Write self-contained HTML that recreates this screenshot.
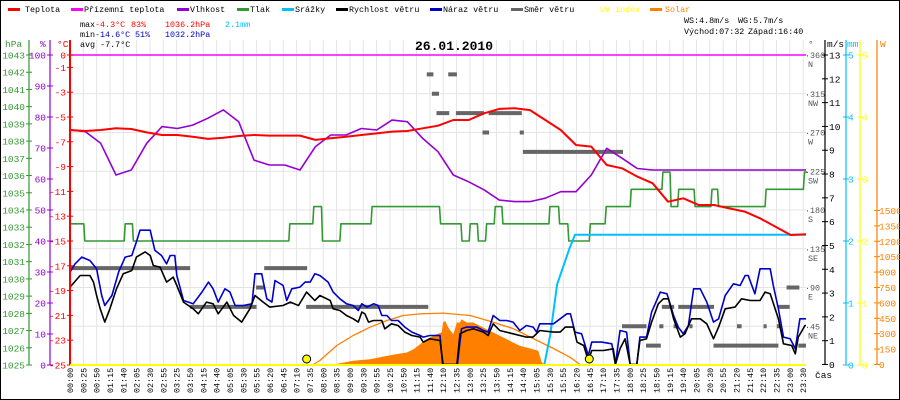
<!DOCTYPE html>
<html><head><meta charset="utf-8"><style>
html,body{margin:0;padding:0;background:#fff}
svg{display:block}
text{font-family:"Liberation Mono",monospace;font-size:9.5px}
.sm{font-size:8.4px}
</style></head><body>
<svg id="chart" width="900" height="400" viewBox="0 0 900 400" xmlns="http://www.w3.org/2000/svg">
<rect x="0.5" y="0.5" width="899" height="399" fill="#fff" stroke="#000"/>
<g id="grid"></g>
<g id="series"></g>
<g id="axes"></g>
<g class="sm">
 <rect x="8" y="8" width="12" height="3" fill="#f00"/><text class="sm" x="25" y="12">Teplota</text>
 <rect x="71" y="8" width="12" height="3" fill="#f0f"/><text class="sm" x="84" y="12">Přízemní teplota</text>
 <rect x="177" y="8" width="12" height="3" fill="#9400d3"/><text class="sm" x="190" y="12">Vlhkost</text>
 <rect x="237" y="8" width="12" height="3" fill="#339933"/><text class="sm" x="250" y="12">Tlak</text>
 <rect x="282" y="8" width="12" height="3" fill="#00bfff"/><text class="sm" x="295" y="12">Srážky</text>
 <rect x="336" y="8" width="12" height="3" fill="#000"/><text class="sm" x="349" y="12">Rychlost větru</text>
 <rect x="430" y="8" width="12" height="3" fill="#0000cc"/><text class="sm" x="443" y="12">Náraz větru</text>
 <rect x="511" y="8" width="12" height="3" fill="#666"/><text class="sm" x="524" y="12">Směr větru</text>
 <text class="sm" x="600" y="12" fill="#ffff00">UV index</text>
 <rect x="650" y="8" width="12" height="3" fill="#ff8000"/><text class="sm" x="665" y="12" fill="#ff8000">Solar</text>
</g>
<g>
 <text class="sm" x="80" y="27">max</text><text class="sm" x="95" y="27" fill="#f00">-4.3°C</text><text class="sm" x="131" y="27" fill="#f00">83%</text><text class="sm" x="165" y="27" fill="#f00">1036.2hPa</text><text class="sm" x="225" y="27" fill="#00bfff">2.1mm</text>
 <text class="sm" x="80" y="37">min</text><text class="sm" x="95" y="37" fill="#0000cc">-14.6°C</text><text class="sm" x="135" y="37" fill="#0000cc">51%</text><text class="sm" x="165" y="37" fill="#0000cc">1032.2hPa</text>
 <text class="sm" x="80" y="47">avg -7.7°C</text>
 <text class="sm" x="684" y="23">WS:4.8m/s</text><text class="sm" x="738" y="23">WG:5.7m/s</text>
 <text class="sm" x="684" y="34">Východ:07:32</text><text class="sm" x="748" y="34">Západ:16:40</text>
 <text x="415" y="50" style="font-size:13px;font-weight:bold">26.01.2010</text>
</g>
</svg>
<script>
// ---- data ----
const tempTimes=[0,30,60,90,120,150,180,210,240,270,300,330,360,390,420,450,480,510,540,570,600,630,660,690,720,750,780,810,840,870,900,930,960,990,1020,1050,1080,1110,1140,1170,1200,1230,1260,1290,1320,1350,1380,1410,1440];
const tempValues=[-6.05,-6.13,-6.05,-5.91,-5.97,-6.24,-6.45,-6.45,-6.59,-6.77,-6.67,-6.53,-6.45,-6.5,-6.5,-6.5,-6.85,-6.72,-6.59,-6.45,-6.32,-6.18,-6.13,-5.91,-5.7,-5.24,-5.24,-4.7,-4.35,-4.3,-4.44,-5.24,-6.05,-7.26,-7.39,-8.87,-9.14,-9.81,-10.35,-11.83,-11.56,-12.1,-12.1,-12.37,-12.63,-13.17,-13.84,-14.52,-14.46];
const humValues=[75.8,75.3,71.5,61.3,62.9,71.5,76.9,76.3,77.4,79.6,82.3,78.5,66.1,64.5,64.5,62.9,70.4,74.2,74.2,76.3,75.8,79.0,78.5,73.1,68.8,61.3,59.1,56.5,53.2,52.7,52.7,53.8,55.9,55.9,61.3,69.9,66.7,63.4,62.9,62.9,62.9,62.9,62.9,62.9,62.9,62.9,62.9,62.9,62.9];
const apparentTimes=[0,1440];
const apparentValues=[0,0];
const pressTimes=[0,27,106,122,428,475,492,528,589,723,765,781,797,813,830,845,937,956,974,1016,1047,1096,1158,1174,1189,1221,1254,1267,1360,1435,1440];
const pressValues=[1033.2,1032.2,1033.2,1032.2,1033.2,1034.2,1032.2,1033.2,1034.2,1033.2,1032.2,1033.2,1032.2,1033.2,1034.2,1033.2,1034.2,1033.2,1032.2,1033.2,1034.2,1035.2,1036.2,1034.2,1035.2,1034.2,1035.2,1034.2,1035.2,1036.2,1036.2];
const rainTimes=[0,928,940,953,968,978,988,1440];
const rainValues=[0,0,0.5,1.3,1.66,1.9,2.1,2.1];
const windTimes=[0,20,39,46,52,59,68,78,91,104,121,130,147,157,163,176,189,202,209,222,241,251,267,280,290,307,320,336,352,362,378,391,417,431,447,463,479,489,509,515,528,541,554,564,571,577,584,594,610,616,629,642,655,669,685,691,704,724,730,757,763,776,789,809,818,828,841,867,893,906,919,946,959,969,985,992,1005,1014,1021,1044,1063,1067,1076,1086,1096,1109,1115,1128,1138,1151,1161,1171,1181,1194,1203,1216,1233,1246,1259,1269,1282,1301,1314,1331,1350,1360,1370,1386,1396,1412,1419,1425,1438,1440];
const windValues=[3.25,3.74,3.74,3.46,2.9,2.34,1.78,2.34,3.18,3.81,3.95,4.51,4.73,4.58,4.16,4.09,3.46,3.67,3.32,2.62,2.34,2.13,2.62,2.55,2.13,2.62,2.06,1.78,2.34,2.9,2.62,2.41,2.48,2.62,2.48,3.04,2.69,2.9,2.69,2.34,2.27,2.06,1.92,1.78,2.2,2.13,1.78,1.85,1.85,1.5,1.71,1.64,1.36,1.22,1.15,0.94,1.08,1.01,0,0,1.29,1.43,1.5,1.36,1.22,1.71,1.43,1.29,1.15,1.15,1.43,1.36,1.36,1.57,1.57,0.94,0.8,0.17,0.59,0.59,0.66,0,0.66,1.08,0,0,1.01,1.08,1.78,2.55,2.76,2.76,1.92,1.15,1.29,1.92,1.92,1.71,1.08,1.57,2.34,2.41,2.76,2.69,2.69,3.04,2.97,1.92,0.87,0.8,0.45,1.15,1.64,1.64];
const gustTimes=[0,10,23,39,52,62,68,82,95,108,121,130,137,157,166,179,189,196,205,209,222,241,258,271,280,290,303,313,323,339,356,362,375,385,395,401,417,424,434,450,460,470,479,489,505,515,528,541,554,564,571,581,594,603,610,620,629,642,655,669,685,691,704,724,729,758,766,776,796,809,818,828,841,854,867,880,893,906,913,919,946,959,972,979,988,1001,1014,1021,1040,1060,1067,1076,1089,1096,1109,1115,1128,1138,1155,1168,1181,1190,1200,1210,1220,1233,1246,1259,1269,1282,1298,1311,1321,1327,1340,1350,1370,1376,1386,1396,1409,1419,1428,1440];
const gustValues=[3.88,4.23,4.51,4.37,4.02,2.9,2.48,2.9,3.88,4.51,4.58,5.15,5.64,5.64,4.8,4.58,4.23,4.58,4.58,3.74,2.69,2.55,3.04,3.46,3.18,2.62,3.18,3.04,2.48,2.48,2.55,3.81,3.81,2.76,2.62,3.53,3.32,2.69,3.18,3.25,3.46,3.46,3.81,3.74,3.46,3.04,2.76,2.55,2.48,2.27,2.55,2.41,2.55,2.48,2.06,2.06,1.85,1.85,1.57,1.36,1.22,1.15,1.22,1.22,0,0,1.5,1.57,1.57,1.43,1.36,2.06,1.85,1.85,1.78,1.43,1.64,1.57,1.36,1.71,1.71,1.92,2.13,2.13,1.36,1.29,0.38,0.94,0.94,0.87,0,1.43,1.36,0,0,1.15,1.15,2.2,3.04,2.97,2.06,1.57,1.29,1.64,3.18,3.18,2.62,1.78,1.92,2.9,3.39,3.32,3.74,3.74,2.97,4.02,4.02,3.32,2.34,1.15,1.08,0.66,1.92,1.92];
const dirStart=[0,235,364,380,462,698,708,717,740,755,807,819,880,886,1080,1127,1153,1158,1181,1190,1212,1259,1305,1357,1383,1386,1402,1425];
const dirEnd=[235,365,380,464,701,711,722,742,757,810,820,884,888,1082,1128,1156,1161,1182,1190,1260,1218,1386,1314,1363,1389,1408,1427,1440];
const dirValues=[112.5,67.5,90,112.5,67.5,337.5,315,292.5,337.5,292.5,270,292.5,270,247.5,45,22.5,45,67.5,45,67.5,45,22.5,45,45,45,67.5,90,22.5];
const solarTimes=[476,489,522,554,587,620,639,659,672,685,698,711,717,727,730,734,740,747,750,757,763,766,776,789,802,815,828,841,854,867,880,893,906,916,923,929];
const solarValues=[0,0,6,36,52,84,101,117,149,198,247,279,295,312,409,425,360,312,295,409,409,441,409,409,376,344,312,279,247,214,182,166,149,133,19,0];
const solarMaxTimes=[476,489,522,554,587,620,652,685,730,783,828,867,906,946,978,998];
const solarMaxValues=[0,39,185,282,363,428,477,493,500,477,412,350,253,156,71,0];
const uvTimes=[0,1440];
const uvValues=[0,0];
const sunTimes=[463,1016];
const xLabels=["00:00","00:25","00:50","01:15","01:40","02:05","02:30","02:55","03:25","03:50","04:15","04:40","05:05","05:30","05:55","06:20","06:45","07:10","07:35","08:00","08:35","09:00","09:30","09:55","10:25","10:50","11:15","11:40","12:10","12:35","13:00","13:25","13:50","14:15","14:40","15:05","15:30","15:55","16:20","16:45","17:10","17:35","18:00","18:25","18:50","19:15","19:40","20:05","20:30","20:55","21:20","21:45","22:10","22:35","23:00","23:30"];
const hpaTicks=[1043,1042,1041,1040,1039,1038,1037,1036,1035,1034,1033,1032,1031,1030,1029,1028,1027,1026,1025];
const humTicks=[100,90,80,70,60,50,40,30,20,10,0];
const tempTicks=[0,-1,-3,-5,-7,-9,-11,-13,-15,-17,-19,-21,-23,-25];
const dirTicks=[360,315,270,225,180,135,90,45];
const dirNames=["N","NW","W","SW","S","SE","E","NE"];
const msTicks=[13,12,11,10,9,8,7,6,5,4,3,2,1,0];
const mmTicks=[5,4,3,2,1,0];
const wTicks=[1500,1350,1200,1050,900,750,600,450,300,150,0];

// ---- scales ----
const X0=70,X1=806,YT=55,YB=365;
const xT=t=>X0+t*(X1-X0)/1440;
const yC=c=>YT+(-c)*12.4;
const yH=h=>YB-h*3.1;
const yP=p=>YB-(p-1025)*(310/18);
const yV=v=>364.5-v*(309.5/13);
const yD=d=>YB-d*310/360;
const yR=m=>YB-m*62;
const yW=w=>364.5-w*0.1027;

const NS="http://www.w3.org/2000/svg";
const G=document.getElementById('grid'),S=document.getElementById('series'),A=document.getElementById('axes');
function mk(tag,parent,attrs){const e=document.createElementNS(NS,tag);for(const k in attrs)e.setAttribute(k,attrs[k]);parent.appendChild(e);return e;}
function pts(ts,vs,fx,fy){return ts.map((t,i)=>fx(t).toFixed(1)+','+fy(vs[i]).toFixed(1)).join(' ');}

// grid
xLabels.forEach((l,i)=>{const x=X0+i*13.33;
 const g=mk('line',G,{x1:x,x2:x,y1:40,y2:YB,stroke:'#e4e4e4','stroke-width':1});
 
 
 const tx=mk('text',A,{transform:`translate(${x+3},393) rotate(-90)`,'class':'sm'});
 tx.textContent=l;
 
 
});
dirTicks.forEach((d,i)=>{const y=yD(d);
 const g=mk('line',G,{x1:X0,x2:X1,y1:y,y2:y,stroke:'#e4e4e4','stroke-width':1});
 
 
 const t1=mk('text',A,{x:805,y:y+3,fill:'#555','class':'sm'});t1.textContent='·'+d;
 
 
 const t2=mk('text',A,{x:808,y:y+12,fill:'#555','class':'sm'});t2.textContent=dirNames[i];
 
 
});

// series
function poly(ts,vs,fx,fy,col,w,name){const p=mk('polyline',S,{points:pts(ts,vs,fx,fy),fill:'none',stroke:col,'stroke-width':w,'stroke-linejoin':'round'});
 
 return p;}
{const d=pts(solarTimes,solarValues,xT,yW);
 const p=mk('polygon',S,{points:xT(solarTimes[0])+','+yW(0)+' '+d+' '+xT(solarTimes[solarTimes.length-1])+','+yW(0),fill:'#ff8000'});
 
 }
poly(solarMaxTimes,solarMaxValues,xT,yW,'#ff8000',1.3,'solar-max-line');
dirValues.forEach((d,i)=>{const y=yD(d);
 const r=mk('rect',S,{x:xT(dirStart[i]),y:y-2,width:Math.max(2,xT(dirEnd[i])-xT(dirStart[i])),height:4,fill:'#666'});
 
 
});
{const ts=[],vs=[];pressTimes.forEach((t,i)=>{if(i>0){ts.push(t);vs.push(pressValues[i-1]);}ts.push(i>0?t+2:t);vs.push(pressValues[i]);});
 poly(ts,vs,xT,yP,'#339933',1.6,'pressure-line');}
poly(rainTimes,rainValues,xT,yR,'#00bfff',2,'rain-line');
poly(tempTimes,humValues,xT,yH,'#9400d3',1.6,'humidity-line');
poly(tempTimes,tempValues,xT,yC,'#f00',2,'temperature-line');
poly(apparentTimes,apparentValues,xT,yC,'#f0f',1.6,'apparent-temperature-line');
poly(gustTimes,gustValues,xT,yV,'#0000cc',1.6,'wind-gust-line');
poly(windTimes,windValues,xT,yV,'#000',1.6,'wind-speed-line');
poly(uvTimes,uvValues,xT,y=>YB-y*62,'#ffff00',2,'uv-line');
sunTimes.forEach(t=>{const c=mk('circle',S,{cx:xT(t),cy:359,r:4,fill:'#ffff00',stroke:'#000','stroke-width':1});
 
 });

// axes
function vaxis(x,col,name){const l=mk('line',A,{x1:x,x2:x,y1:40,y2:YB,stroke:col,'stroke-width':x===70?2:1.2});
 
 }
vaxis(29,'#339933','pressure-axis');vaxis(50,'#9400d3','humidity-axis');vaxis(70,'#f00','temperature-axis');
vaxis(825,'#000','wind-speed-axis');vaxis(846,'#00bfff','rain-axis');vaxis(860,'#ffff00','uv-axis');vaxis(877,'#ff8000','solar-axis');
function ticks(list,fy,xa,col,anchor,tx,name,fmt){list.forEach(v=>{const y=fy(v);
 mk('line',A,{x1:xa-3,x2:xa+3,y1:y,y2:y,stroke:col});
 const t=mk('text',A,{x:tx,y:y+3.5,fill:col,'text-anchor':anchor});t.textContent=fmt?fmt(v):v;
 
 });}
ticks(hpaTicks,yP,29,'#339933','end',25,'pressure-tick-label');
ticks(humTicks,yH,50,'#9400d3','end',46,'humidity-tick-label');
ticks(tempTicks,yC,70,'#f00','end',66,'temperature-tick-label',v=>v===0?'0':String(v));
ticks(msTicks,yV,825,'#000','start',829,'wind-speed-tick-label');
ticks(mmTicks,yR,846,'#00bfff','start',848,'rain-tick-label');
ticks(mmTicks,yR,860,'#ffff00','start',862,'uv-tick-label');
ticks(wTicks,yW,877,'#ff8000','start',879,'solar-tick-label');
[['hPa',5,'#339933'],['%',40,'#9400d3'],['°C',57,'#f00'],['°',808,'#555'],['m/s',827,'#000'],['mm',847,'#00bfff'],['W',880,'#ff8000']].forEach(u=>{
 const t=mk('text',A,{x:u[1],y:47,fill:u[2]});t.textContent=u[0];
 
 });
{const t=mk('text',A,{x:815,y:378});t.textContent='čas';
 
 }
mk('line',A,{x1:X0,x2:X1,y1:YB,y2:YB,stroke:'#ffff00','stroke-width':2});
</script>
</body></html>
